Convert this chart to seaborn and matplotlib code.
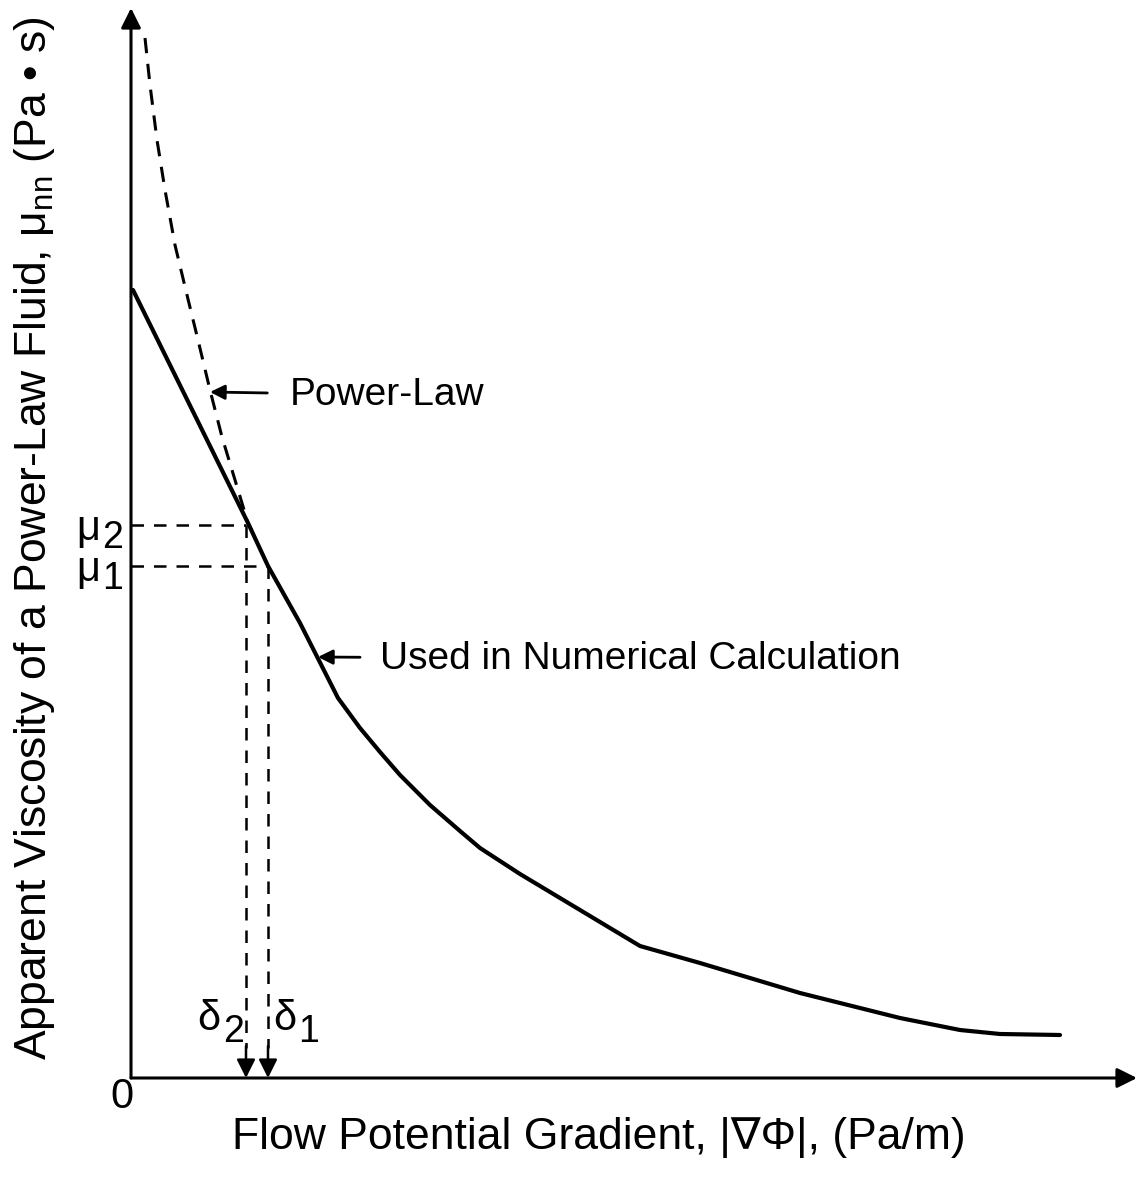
import matplotlib
matplotlib.use("Agg")
import matplotlib.pyplot as plt
import seaborn as sns
import pandas as pd

# ---- data (units: arbitrary) ----
solid_x = [2, 117, 137, 169, 207, 229, 249, 269, 299, 329, 349, 389, 429, 509, 569, 669, 769, 829, 869, 929]
solid_y = [788, 555, 512, 455, 380, 350, 326, 303, 273, 247, 230, 204, 180, 132, 115, 85, 60, 48, 44, 43]

power_x = [14, 19, 26, 34, 44, 56, 67, 79, 91, 104, 117, 121]
power_y = [1040, 993, 938, 888, 833, 783, 738, 688, 641, 598, 555, 547]

mu_levels = [553, 512]        # mu2, mu1
delta_levels = [115, 137]     # delta2, delta1
mu_labels = ["2", "1"]
delta_labels = ["2", "1"]

sns.set_style("white")
plt.rcParams["font.family"] = ["Liberation Sans", "DejaVu Sans"]
plt.rcParams["text.color"] = "black"
plt.rcParams["mathtext.fontset"] = "custom"
plt.rcParams["mathtext.rm"] = "Liberation Sans"
plt.rcParams["mathtext.it"] = "Liberation Sans"

W, H = 1139, 1185
fig = plt.figure(figsize=(W / 100, H / 100), dpi=100)
ax = fig.add_axes([131 / W, 107 / H, 1008 / W, 1078 / H])
ax.set_xlim(0, 1008)
ax.set_ylim(0, 1078)
for s in ax.spines.values():
    s.set_visible(False)
ax.set_xticks([])
ax.set_yticks([])

df_solid = pd.DataFrame({"x": solid_x, "y": solid_y})
df_power = pd.DataFrame({"x": power_x, "y": power_y})
sns.lineplot(data=df_solid, x="x", y="y", ax=ax, color="black", lw=3.0, sort=False)
sns.lineplot(data=df_power, x="x", y="y", ax=ax, color="black", lw=2.2, sort=False)
ax.lines[-1].set_dashes((5, 3.5))
ax.set_xlabel("")
ax.set_ylabel("")

# axes with arrows
ax.annotate("", xy=(0, 1070), xytext=(0, 0),
            arrowprops=dict(arrowstyle="-|>", color="black", lw=2.2, mutation_scale=30,
                            shrinkA=0, shrinkB=0), annotation_clip=False)
ax.annotate("", xy=(1006, 0), xytext=(0, 0),
            arrowprops=dict(arrowstyle="-|>", color="black", lw=2.2, mutation_scale=30,
                            shrinkA=0, shrinkB=0), annotation_clip=False)

# reference dashed lines
for mu, d in zip(mu_levels, delta_levels):
    ax.plot([0, d], [mu, mu], color="black", lw=1.8, dashes=(5, 4))
    ax.plot([d, d], [mu, 30], color="black", lw=1.8, dashes=(5, 4))
    ax.annotate("", xy=(d, 0), xytext=(d, 32),
                arrowprops=dict(arrowstyle="-|>", color="black", lw=1.8, mutation_scale=28,
                                shrinkA=0, shrinkB=0), annotation_clip=False)

fs = 28
fsl = 32
# mu labels
for mu, lab in zip(mu_levels, mu_labels):
    ax.text(-43, mu - 4, "\u03bc", fontsize=30, ha="center", va="center", clip_on=False)
    ax.text(-18, mu - 13, lab, fontsize=27, ha="center", va="center", clip_on=False)
# delta labels
ax.text(78, 59, "\u03b4", fontsize=30, ha="center", va="center", clip_on=False)
ax.text(103, 46, delta_labels[0], fontsize=27, ha="center", va="center", clip_on=False)
ax.text(154, 59, "\u03b4", fontsize=30, ha="center", va="center", clip_on=False)
ax.text(178, 46, delta_labels[1], fontsize=27, ha="center", va="center", clip_on=False)
ax.text(-9, -19, "0", fontsize=30, ha="center", va="center", clip_on=False)

# curve annotations
ax.annotate("Power-Law", xy=(79, 686), xytext=(159, 683), fontsize=fs, va="center", ha="left",
            arrowprops=dict(arrowstyle="-|>", color="black", lw=2.0, mutation_scale=22,
                            shrinkA=14, shrinkB=0))
ax.annotate("Used in Numerical Calculation", xy=(187, 421), xytext=(249, 419), fontsize=fs,
            va="center", ha="left",
            arrowprops=dict(arrowstyle="-|>", color="black", lw=2.0, mutation_scale=22,
                            shrinkA=12, shrinkB=0))

# axis labels
ax.text(468, -60, "Flow Potential Gradient, |\u2207\u03a6|, (Pa/m)", fontsize=fsl,
        ha="center", va="center", clip_on=False)
ax.text(-96, 540,
        "Apparent Viscosity of a Power-Law Fluid, \u03bc$_{\\mathregular{nn}}$ (Pa \u2022 s)",
        fontsize=fsl, ha="center", va="center", rotation=90, clip_on=False)

fig.savefig("out.png", dpi=100)
